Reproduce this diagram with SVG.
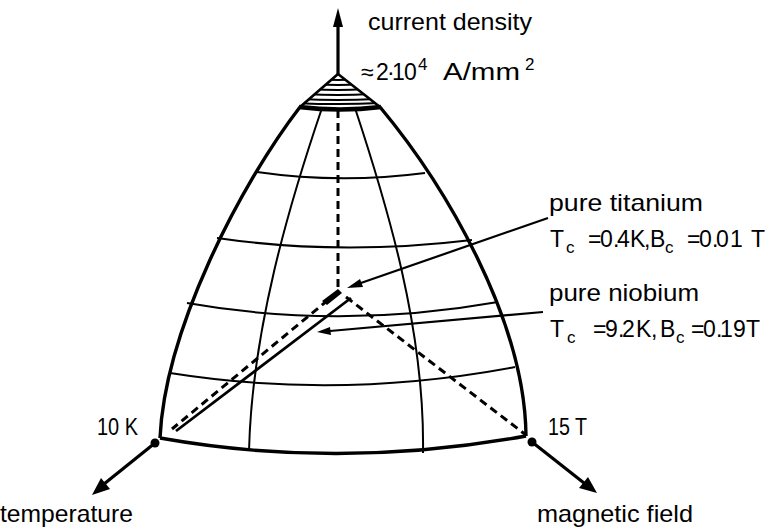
<svg xmlns="http://www.w3.org/2000/svg" width="773" height="528" viewBox="0 0 773 528">
<style>
.t{font-family:"Liberation Sans",Arial,sans-serif;font-size:24px;fill:#000}
.f{font-family:"Liberation Sans",Arial,sans-serif;font-size:23px;fill:#000}
.sub{font-size:17px}
.out{fill:none;stroke:#000;stroke-width:3.4}
.grid{fill:none;stroke:#000;stroke-width:2}
.dash{fill:none;stroke:#000;stroke-width:3;stroke-dasharray:8 5}
.axis{fill:none;stroke:#000;stroke-width:3.2}
.ptr{fill:none;stroke:#000;stroke-width:2.2}
.hatch{fill:none;stroke:#000;stroke-width:2}
</style>
<defs>
<clipPath id="capclip"><path d="M338,74 L299,108 Q340,113 381,108 Z"/></clipPath>
</defs>
<rect width="773" height="528" fill="#fff"/>
<g id="surface">
<path class="out" d="M300,107 C240,185 165,330 160,438"/>
<path class="out" d="M380,107 C445,185 525,320 526,436"/>
<path class="out" d="M160,438 Q340,470 526,436"/>
<path class="grid" d="M257,172 Q340,184 425,173"/>
<path class="grid" d="M217,238 Q340,256 472,240"/>
<path class="grid" d="M187,303 Q340,330 498,302"/>
<path class="grid" d="M170,373 Q340,400 515,367"/>
<path class="grid" d="M322,108 C289,205 252,330 249,451"/>
<path class="grid" d="M355,108 C387,205 425,330 423,453"/>
</g>
<g id="cap">
<g clip-path="url(#capclip)">
<path class="hatch" d="M320,79 Q338,81 356,79"/>
<path class="hatch" d="M315,84 Q338,86 361,84"/>
<path class="hatch" d="M310,89 Q338,91 366,89"/>
<path class="hatch" d="M305,94 Q338,96 371,94"/>
<path class="hatch" d="M300,99 Q338,101 376,99"/>
<path class="hatch" d="M296,103 Q338,105 380,103"/>
</g>
<path fill="none" stroke="#000" stroke-width="2.6" d="M338,74 L300,107 M338,74 L380,107"/>
<path fill="none" stroke="#000" stroke-width="4.5" d="M299,107 Q340,112 381,107"/>
</g>
<g id="axes">
<path class="axis" d="M338,74 L338,24"/>
<polygon points="338,8 333,27 343,27"/>
<path class="axis" d="M155,443 L104,484"/>
<polygon points="92,495 101,478 110,489"/>
<path class="axis" d="M532,442 L584,483"/>
<polygon points="597,493 579,488 588,477"/>
<circle cx="155" cy="443" r="4.5"/>
<circle cx="532" cy="442" r="4.5"/>
</g>
<g id="connectors">
<path class="dash" d="M338,110 L338,290"/>
<path class="dash" d="M328,300 L172,429"/>
<polygon points="338,289 342,293 327,305 322,301"/>
<path fill="none" stroke="#000" stroke-width="2.8" d="M351,298 L176,431"/>
<path class="dash" d="M346,297 L526,435"/>
<path class="ptr" d="M548,218 L358,284"/>
<polygon points="347,288 360,279 363,287"/>
<path class="ptr" d="M543,312 L330,331"/>
<polygon points="317,332 330,327 331,335"/>
</g>
<g id="labels">
<text class="t" x="368" y="30" textLength="164" lengthAdjust="spacingAndGlyphs">current density</text>
<text class="f" y="80"><tspan x="361">≈</tspan><tspan x="376 387 392 404">2·10</tspan><tspan x="418" dy="-10" class="sub">4</tspan></text>
<text class="f" x="443" y="80" textLength="77" lengthAdjust="spacingAndGlyphs">A/mm</text>
<text class="f sub" x="525" y="70">2</text>
<text class="t" x="549" y="211" textLength="154" lengthAdjust="spacingAndGlyphs">pure titanium</text>
<text class="f" y="247"><tspan x="550">T</tspan><tspan x="566" dy="6" class="sub">c</tspan><tspan x="588 600 613 617 630 644" dy="-6">=0.4K,</tspan><tspan x="650">B</tspan><tspan x="665" dy="6" class="sub">c</tspan><tspan x="687 699 712 716 730" dy="-6">=0.01</tspan><tspan x="751">T</tspan></text>
<text class="t" x="549" y="301" textLength="150" lengthAdjust="spacingAndGlyphs">pure niobium</text>
<text class="f" y="337"><tspan x="550">T</tspan><tspan x="567" dy="6" class="sub">c</tspan><tspan x="593 605 618 622 636 651" dy="-6">=9.2K,</tspan><tspan x="660">B</tspan><tspan x="676" dy="6" class="sub">c</tspan><tspan x="691 703 716 720 733 746" dy="-6">=0.19T</tspan></text>
<text class="t" x="97" y="435" textLength="41" lengthAdjust="spacingAndGlyphs">10 K</text>
<text class="t" x="548" y="435" textLength="39" lengthAdjust="spacingAndGlyphs">15 T</text>
<text class="t" x="0" y="522" textLength="133" lengthAdjust="spacingAndGlyphs">temperature</text>
<text class="t" x="537" y="522" textLength="156" lengthAdjust="spacingAndGlyphs">magnetic field</text>
</g>
</svg>
